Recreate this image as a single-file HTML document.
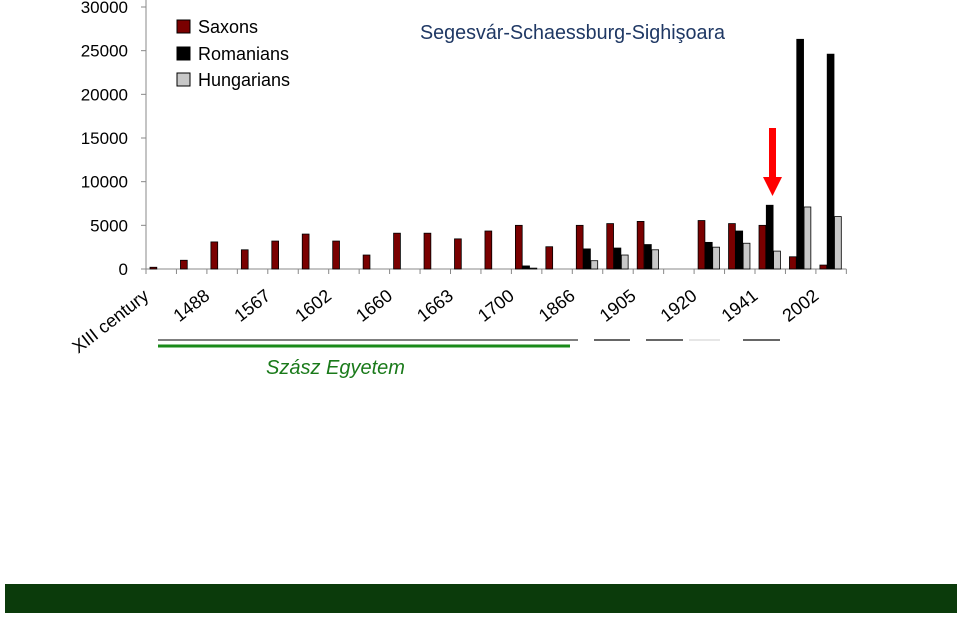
<!DOCTYPE html>
<html><head><meta charset="utf-8"><style>
body{margin:0;background:#fff;width:960px;height:615px;overflow:hidden;font-family:"Liberation Sans",sans-serif}
</style></head><body>
<svg id="chart" width="960" height="615" xmlns="http://www.w3.org/2000/svg">
<g id="yaxis"></g>
<g id="bars"></g>
<g id="xlabels"></g>
<g font-size="18" fill="#000">
<rect x="177" y="20" width="13" height="13" fill="#7a0000" stroke="#000"/>
<text x="198" y="33">Saxons</text>
<rect x="177" y="47" width="13" height="13" fill="#000" stroke="#000"/>
<text x="198" y="60">Romanians</text>
<rect x="177" y="73" width="13" height="13" fill="#c8c8c8" stroke="#000"/>
<text x="198" y="86">Hungarians</text>
</g>
<text x="420" y="39" font-size="20" fill="#1f3864" textLength="305" lengthAdjust="spacingAndGlyphs">Segesvár-Schaessburg-Sighişoara</text>
<g>
<rect x="769" y="128" width="7" height="50" fill="#f00"/>
<polygon points="763,177 782,177 772.5,196" fill="#f00"/>
</g>
<line x1="158" y1="340" x2="578" y2="340" stroke="#555" stroke-width="1.5"/>
<line x1="158" y1="346" x2="570" y2="346" stroke="#1a8a1a" stroke-width="3"/>
<line x1="594" y1="340" x2="630" y2="340" stroke="#333" stroke-width="1.5"/>
<line x1="646" y1="340" x2="683" y2="340" stroke="#333" stroke-width="1.5"/>
<line x1="689" y1="340" x2="720" y2="340" stroke="#ddd" stroke-width="1.5"/>
<line x1="743" y1="340" x2="780" y2="340" stroke="#333" stroke-width="1.5"/>
<text x="266" y="374" font-size="20" font-style="italic" fill="#1a7a1a">Szász Egyetem</text>
<rect x="5" y="584" width="952" height="29" fill="#0b3b0b"/>
</svg>
<script>
const categories=["XIII century","","1488","","1567","","1602","","1660","","1663","","1700","","1866","","1905","","1920","","1941","","2002"];
const saxons=[200,1000,3100,2200,3200,4000,3200,1600,4100,4100,3450,4350,5000,2550,5000,5200,5450,0,5550,5200,5000,1400,450];
const romanians=[0,0,0,0,0,0,0,0,0,0,0,0,350,0,2300,2400,2800,0,3050,4350,7300,26300,24600];
const hungarians=[0,0,0,0,0,0,0,0,0,0,0,0,100,0,950,1600,2200,0,2500,2950,2050,7100,6000];
const yTicks=[0,5000,10000,15000,20000,25000,30000];
const xLabels=["XIII century","1488","1567","1602","1660","1663","1700","1866","1905","1920","1941","2002"];
const NS="http://www.w3.org/2000/svg";
const x0=146,cw=30.45,y0=269,ppu=262/30000;
const y=v=>y0-v*ppu;
const cx=i=>x0+cw*i;
function mk(t,a,p){const e=document.createElementNS(NS,t);for(const k in a)e.setAttribute(k,a[k]);p.appendChild(e);return e;}
const ya=document.getElementById('yaxis');
const al=mk('line',{x1:x0,y1:0,x2:x0,y2:y0,stroke:'#888'},ya);


const bl=mk('line',{x1:x0,y1:y0,x2:x0+cw*categories.length,y2:y0,stroke:'#888'},ya);


yTicks.forEach(t=>{
 const tk=mk('line',{x1:x0-5,y1:y(t),x2:x0,y2:y(t),stroke:'#888'},ya);
 
 
 const tx=mk('text',{x:128,y:y(t)+6,'text-anchor':'end','font-size':17},ya);
 tx.textContent=t;
 
 
});
for(let i=0;i<=categories.length;i++){
 const tk=mk('line',{x1:cx(i),y1:y0,x2:cx(i),y2:y0+5,stroke:'#888'},ya);
 
 
}
const bg=document.getElementById('bars');
const series=[[saxons,'#7a0000','saxons'],[romanians,'#000','romanians'],[hungarians,'#c8c8c8','hungarians']];
categories.forEach((c,i)=>{
 series.forEach(([arr,col,nm],s)=>{
  const v=arr[i]; if(!v) return;
  const r=mk('rect',{x:cx(i)+4+s*7.3,y:y(v),width:6.8,height:y0-y(v),fill:col,stroke:'#000','stroke-width':0.8},bg);
  
  
 });
});
const xl=document.getElementById('xlabels');
xLabels.forEach((l,k)=>{
 const ax=150+cw*2*k, ay=298;
 const t=mk('text',{x:ax,y:ay,'text-anchor':'end','font-size':18,transform:`rotate(-38 ${ax} ${ay})`},xl);
 t.textContent=l;
 
 
});
</script>
</body></html>
